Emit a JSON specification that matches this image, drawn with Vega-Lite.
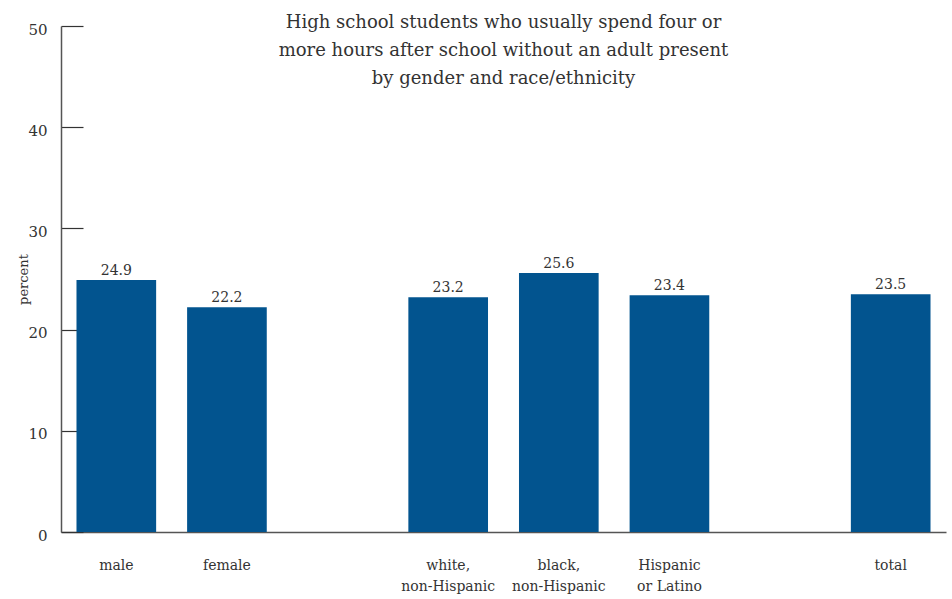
{
  "$schema": "https://vega.github.io/schema/vega-lite/v6.json",
  "width": 885,
  "height": 506,
  "autosize": {"type": "none"},
  "padding": {"left": 61, "top": 26, "right": 6, "bottom": 67},
  "background": "white",
  "title": {
    "text": ["High school students who usually spend four or", "more hours after school without an adult present", "by gender and race/ethnicity"],
    "anchor": "middle",
    "offset": -66,
    "font": "DejaVu Serif",
    "fontSize": 18,
    "fontWeight": "normal",
    "color": "#333333",
    "lineHeight": 28
  },
  "data": {
    "values": [
      {"group": "male", "percent": 24.9},
      {"group": "female", "percent": 22.2},
      {"group": "white,|non-Hispanic", "percent": 23.2},
      {"group": "black,|non-Hispanic", "percent": 25.6},
      {"group": "Hispanic|or Latino", "percent": 23.4},
      {"group": "total", "percent": 23.5}
    ]
  },
  "encoding": {
    "x": {
      "field": "group",
      "type": "nominal",
      "sort": null,
      "scale": {
        "domain": ["male", "female", "gap1", "white,|non-Hispanic", "black,|non-Hispanic", "Hispanic|or Latino", "gap2", "total"],
        "paddingInner": 0.28,
        "paddingOuter": 0.14
      },
      "axis": {
        "title": null,
        "labelAngle": 0,
        "ticks": false,
        "labelPadding": 26,
        "labelExpr": "indexof(datum.value, 'gap') == 0 ? '' : split(datum.value, '|')",
        "labelFont": "DejaVu Serif",
        "labelFontSize": 14,
        "labelColor": "#333333",
        "labelLineHeight": 21,
        "domainColor": "#555555",
        "domainWidth": 1.5
      }
    },
    "y": {
      "field": "percent",
      "type": "quantitative",
      "scale": {"domain": [0, 50]},
      "axis": {
        "values": [0, 10, 20, 30, 40, 50],
        "title": "percent",
        "titleFont": "DejaVu Serif",
        "titleFontSize": 13,
        "titleFontWeight": "normal",
        "titleColor": "#333333",
        "titlePadding": -3,
        "grid": false,
        "tickSize": -22,
        "tickColor": "#333333",
        "tickWidth": 1.2,
        "labelPadding": 36,
        "labelOffset": 3,
        "labelFont": "DejaVu Serif",
        "labelFontSize": 15,
        "labelColor": "#333333",
        "domainColor": "#555555",
        "domainWidth": 1.5
      }
    }
  },
  "layer": [
    {"mark": {"type": "bar", "color": "#02548f"}},
    {
      "mark": {"type": "text", "dy": -9, "font": "DejaVu Serif", "fontSize": 14, "color": "#333333"},
      "encoding": {"text": {"field": "percent", "type": "quantitative", "format": ".1f"}}
    }
  ],
  "config": {
    "view": {"stroke": null},
    "font": "DejaVu Serif"
  }
}
